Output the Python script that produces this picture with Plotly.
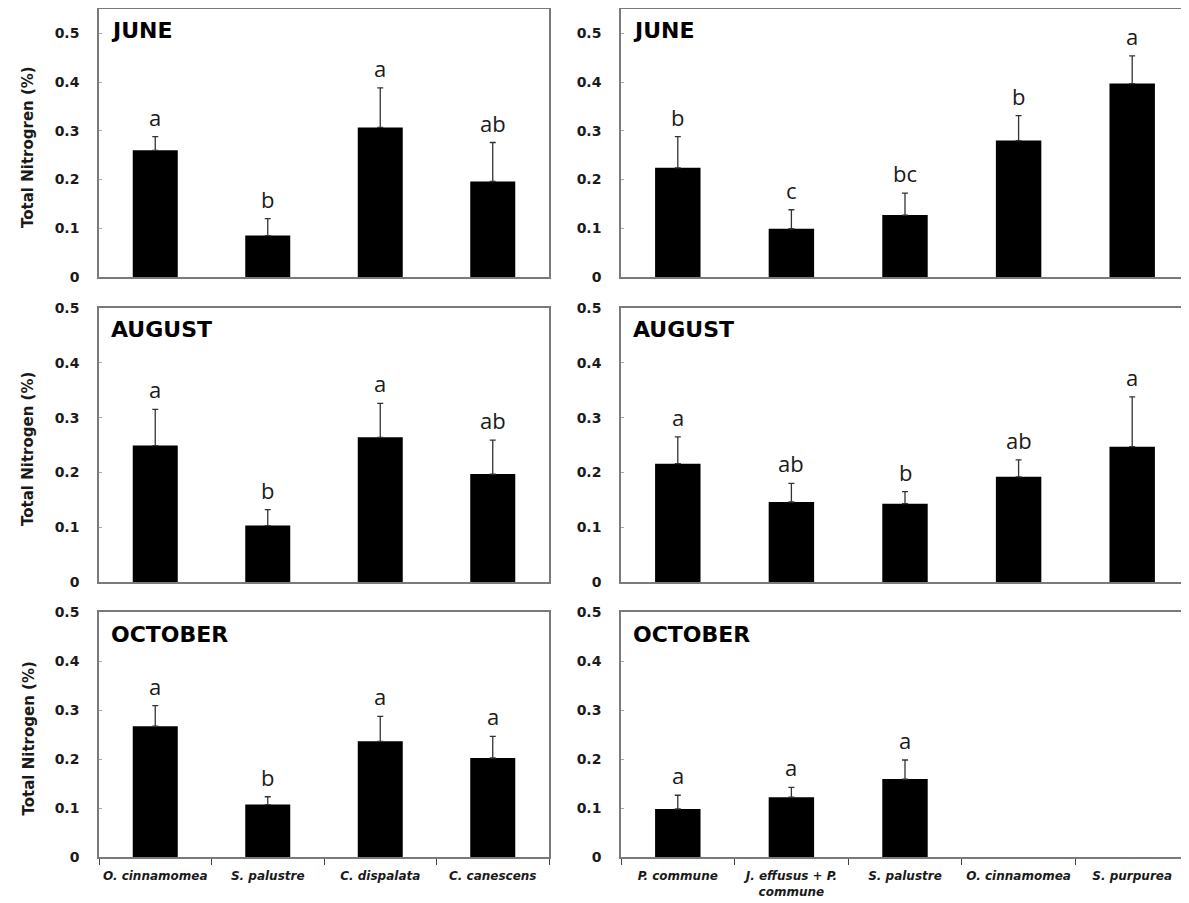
import plotly.graph_objects as go

# ---------------- data ----------------
left_cats = ["O. cinnamomea", "S. palustre", "C. dispalata", "C. canescens"]
right_cats = ["P. commune", "J. effusus + P.<br>commune", "S. palustre", "O. cinnamomea", "S. purpurea"]

june_left_mean = [0.260, 0.085, 0.307, 0.196]
june_left_se = [0.028, 0.035, 0.081, 0.080]
june_left_letters = ["a", "b", "a", "ab"]

june_right_mean = [0.224, 0.099, 0.127, 0.280, 0.397]
june_right_se = [0.064, 0.039, 0.045, 0.051, 0.057]
june_right_letters = ["b", "c", "bc", "b", "a"]

aug_left_mean = [0.249, 0.103, 0.264, 0.197]
aug_left_se = [0.066, 0.029, 0.062, 0.062]
aug_left_letters = ["a", "b", "a", "ab"]

aug_right_mean = [0.216, 0.146, 0.143, 0.192, 0.247]
aug_right_se = [0.049, 0.034, 0.022, 0.031, 0.091]
aug_right_letters = ["a", "ab", "b", "ab", "a"]

oct_left_mean = [0.267, 0.107, 0.236, 0.202]
oct_left_se = [0.042, 0.016, 0.051, 0.044]
oct_left_letters = ["a", "b", "a", "a"]

oct_right_mean = [0.098, 0.122, 0.159, None, None]
oct_right_se = [0.028, 0.020, 0.039, None, None]
oct_right_letters = ["a", "a", "a", "", ""]

month_titles = ["JUNE", "AUGUST", "OCTOBER"]
y_titles = ["Total Nitrogren (%)", "Total Nitrogen (%)", "Total Nitrogen (%)"]
y_tickvals = [0, 0.1, 0.2, 0.3, 0.4, 0.5]
y_ticktext = ["0", "0.1", "0.2", "0.3", "0.4", "0.5"]

panels = [
    (0, 0, left_cats, june_left_mean, june_left_se, june_left_letters),
    (0, 1, right_cats, june_right_mean, june_right_se, june_right_letters),
    (1, 0, left_cats, aug_left_mean, aug_left_se, aug_left_letters),
    (1, 1, right_cats, aug_right_mean, aug_right_se, aug_right_letters),
    (2, 0, left_cats, oct_left_mean, oct_left_se, oct_left_letters),
    (2, 1, right_cats, oct_right_mean, oct_right_se, oct_right_letters),
]

# ---------------- layout constants ----------------
W, H = 1189, 903
OFF = 8  # page body margin offset
col_px = {0: (99 - OFF, 549 - OFF), 1: (621 - OFF, 1189 - OFF)}
row_px = {0: (9 - OFF, 277 - OFF), 1: (308 - OFF, 582 - OFF), 2: (612 - OFF, 857 - OFF)}
row_ymax = {0: 0.55, 1: 0.5, 2: 0.5}
LINE = "#7a7a7a"
TXT = "#1a1a1a"

fig = go.Figure()
layout = dict(
    template="none",
    width=W, height=H, autosize=False,
    margin=dict(l=0, r=0, t=0, b=0, autoexpand=False),
    paper_bgcolor="white", plot_bgcolor="white",
    showlegend=False,
)
annotations = []

for i, (r, c, cats, mean, se, letters) in enumerate(panels):
    n = i + 1
    xs = "x" if n == 1 else f"x{n}"
    ys = "y" if n == 1 else f"y{n}"
    xk = "xaxis" if n == 1 else f"xaxis{n}"
    yk = "yaxis" if n == 1 else f"yaxis{n}"
    nc = len(cats)
    minus = [0 if v is not None else None for v in se]
    fig.add_trace(go.Bar(
        x=cats, y=mean, xaxis=xs, yaxis=ys,
        marker=dict(color="black", line=dict(width=0)),
        width=0.4,
        error_y=dict(type="data", symmetric=False, array=se, arrayminus=minus,
                     color="#333333", thickness=1.3, width=3),
        hoverinfo="x+y",
    ))
    x0, x1 = col_px[c]
    yt, yb = row_px[r]
    bottom = (r == 2)
    layout[xk] = dict(
        domain=[x0 / W, x1 / W], anchor=ys, automargin=False,
        type="category", categoryorder="array", categoryarray=cats,
        range=[-0.5, nc - 0.5],
        showline=True, linecolor=LINE, linewidth=1.5, mirror=True,
        showgrid=False, zeroline=False,
        ticks="outside" if bottom else "", tickson="boundaries",
        ticklen=6, tickcolor="#444", tickwidth=1, tickangle=0,
        showticklabels=bottom, ticklabelstandoff=7,
        tickfont=dict(family="DejaVu Sans", size=12, color=TXT, weight="bold", style="italic"),
    )
    layout[yk] = dict(
        domain=[1 - yb / H, 1 - yt / H], anchor=xs, automargin=False,
        range=[0, row_ymax[r]],
        tickvals=y_tickvals, ticktext=y_ticktext,
        ticks="inside", ticklen=3, tickcolor="#aaaaaa",
        showline=True, linecolor=LINE, linewidth=1.5, mirror=(c == 0),
        showgrid=False, zeroline=False,
        ticklabelstandoff=15,
        tickfont=dict(family="DejaVu Sans", size=14, color=TXT, weight="bold"),
    )
    # significance letters
    for cat, m, s, L in zip(cats, mean, se, letters):
        if m is None or not L:
            continue
        annotations.append(dict(
            x=cat, y=m + s, xref=xs, yref=ys, text=L, showarrow=False,
            yanchor="bottom", yshift=3,
            font=dict(family="Open Sans", size=22, color=TXT),
        ))
    # month title
    annotations.append(dict(
        x=(x0 + 10) / W, y=1 - (yt + 22) / H, xref="paper", yref="paper",
        text=month_titles[r], showarrow=False, xanchor="left", yanchor="middle",
        font=dict(family="DejaVu Sans", size=22, color="black", weight="bold"),
    ))
    # y axis title (left column only)
    if c == 0:
        annotations.append(dict(
            x=(28 - OFF) / W, y=1 - ((yt + yb) / 2 + 4) / H, xref="paper", yref="paper",
            text=y_titles[r], showarrow=False, textangle=-90,
            xanchor="center", yanchor="middle",
            font=dict(family="DejaVu Sans", size=15, color=TXT, weight="bold"),
        ))

layout["annotations"] = annotations
fig.update_layout(**layout)
fig.write_html("out.html")
